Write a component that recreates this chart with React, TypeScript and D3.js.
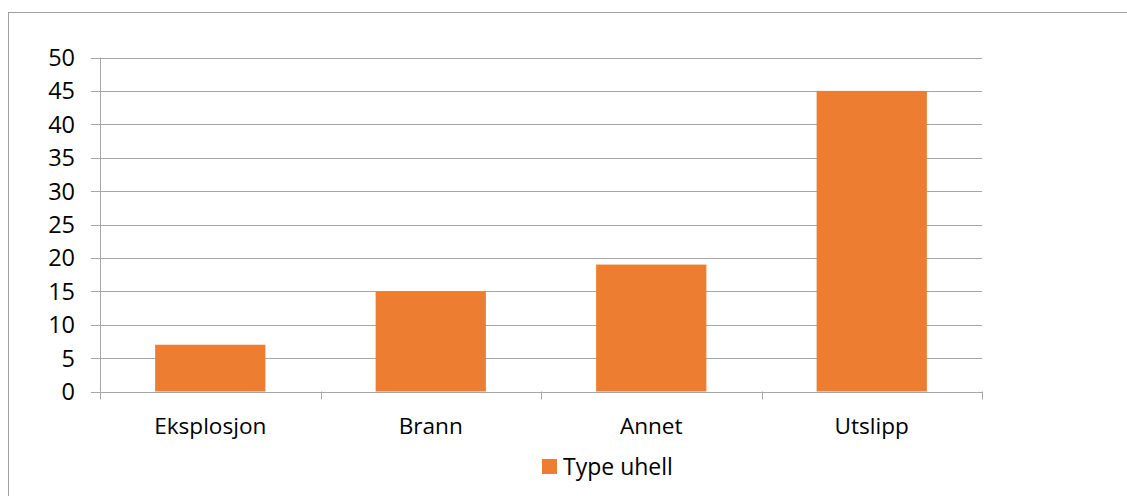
import React from "react";
import * as d3 from "d3";

const categories = ["Eksplosjon", "Brann", "Annet", "Utslipp"];
const values = [7, 15, 19, 45];
const yTicks = [0, 5, 10, 15, 20, 25, 30, 35, 40, 45, 50];
const seriesName = "Type uhell";

export default function App() {
  const W = 1127, H = 496;
  const left = 100, right = 982, top = 57.5, bottom = 391.5;
  const x = d3.scaleBand<string>().domain(categories).range([left, right]).paddingInner(0.5).paddingOuter(0.25);
  const y = d3.scaleLinear().domain([0, 50]).range([bottom, top]);
  const grid = "#a6a6a6";
  const font = "'Open Sans', 'Noto Sans', sans-serif";
  const step = (right - left) / categories.length;
  return (
    <svg width={W} height={H} style={{ position: "absolute", left: 0, top: 0 }}>
      <rect x={0} y={0} width={W} height={H} fill="#fff" />
      <rect x={8.5} y={12.5} width={W + 10} height={H + 10} fill="none" stroke="#a0a0a0" />
      {yTicks.map((t) => (
        <g key={t}>
          <line x1={91} x2={right} y1={Math.round(y(t)) + 0.5} y2={Math.round(y(t)) + 0.5} stroke={grid} strokeWidth={1} />
          <text x={75} y={y(t)} dy="0.36em" textAnchor="end" fontFamily={font} fontSize={23.5} fill="#000">{t}</text>
        </g>
      ))}
      <line x1={left + 0.5} x2={left + 0.5} y1={top} y2={bottom} stroke={grid} />
      {d3.range(categories.length + 1).map((i) => (
        <line key={i} x1={Math.round(left + i * step) + 0.5} x2={Math.round(left + i * step) + 0.5} y1={bottom} y2={bottom + 8} stroke={grid} />
      ))}
      {categories.map((c, i) => (
        <g key={c}>
          <rect x={x(c)!} y={y(values[i])} width={x.bandwidth()} height={y(0) - y(values[i])} fill="#ED7D31" />
          <text x={x(c)! + x.bandwidth() / 2} y={434} textAnchor="middle" fontFamily={font} fontSize={22.6} fill="#000">{c}</text>
        </g>
      ))}
      <rect x={542} y={459} width={15} height={15} fill="#ED7D31" />
      <text x={563} y={475} fontFamily={font} fontSize={23} fill="#000">{seriesName}</text>
    </svg>
  );
}
